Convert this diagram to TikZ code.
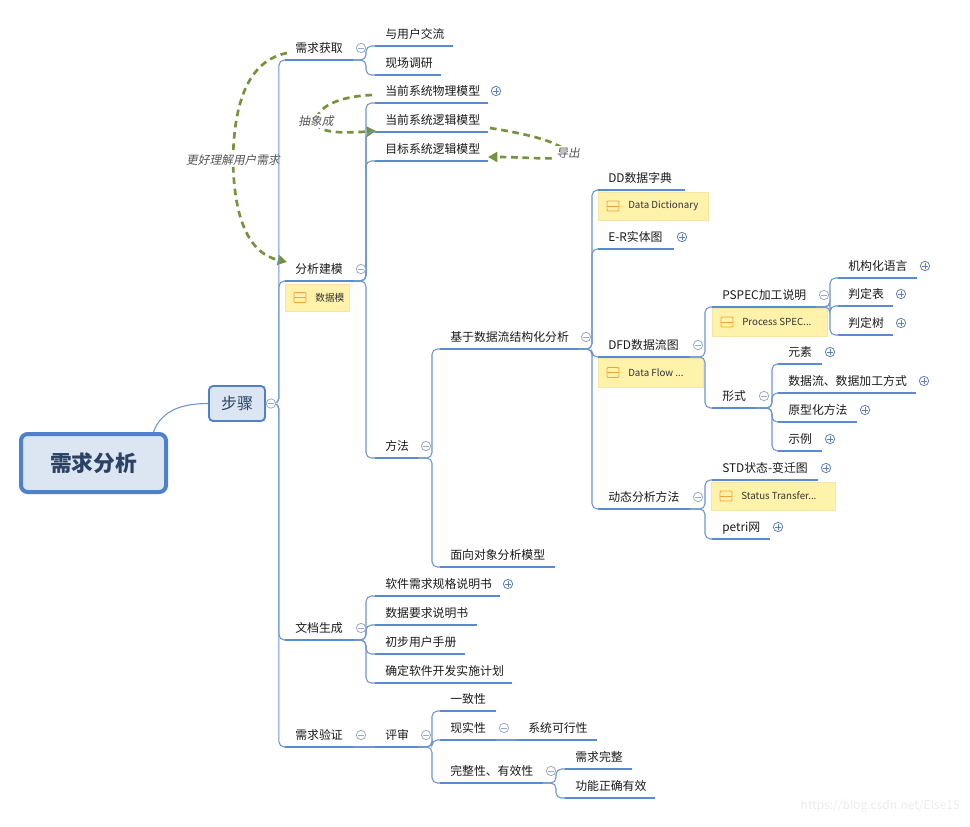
\documentclass[tikz,border=0pt]{standalone}
\usepackage{fontspec}
\setmainfont{Noto Sans CJK SC}
\newfontfamily\slfont{Noto Sans CJK SC}[FakeSlant=0.2]
\usetikzlibrary{calc,arrows.meta}
\definecolor{clrU}{HTML}{5A8AD2}
\definecolor{clrC}{HTML}{6E95CF}
\definecolor{clrT}{HTML}{1A1A1A}
\definecolor{clrT2}{HTML}{333333}
\definecolor{clrN}{HTML}{FFF2AB}
\definecolor{clrNB}{HTML}{F5E6A6}
\definecolor{clrIC}{HTML}{F2A33A}
\definecolor{clrG}{HTML}{76923C}
\definecolor{clrGL}{HTML}{555555}
\definecolor{clrCB}{HTML}{9AAACB}
\definecolor{clrCP}{HTML}{5F7FB8}
\definecolor{clrRF}{HTML}{DCE6F2}
\definecolor{clrRB}{HTML}{4F81C8}
\definecolor{clrRT}{HTML}{2B4264}
\tikzset{
  ul/.style={draw=clrU, line width=2.1pt},
  conn/.style={draw=clrC, line width=0.8pt, rounded corners=4pt},
  tl/.style={inner sep=0pt, anchor=base west, font=\fontsize{8.9pt}{10pt}\selectfont, text=clrT},
  nt/.style={fill=clrN, draw=clrNB, line width=0.4pt},
  ic/.style={draw=clrIC, line width=0.7pt},
  ntext/.style={inner sep=0pt, anchor=west, font=\fontsize{7.3pt}{9pt}\selectfont, text=clrT2},
  garrow/.style={draw=clrG, line width=2pt, dash pattern=on 5pt off 3.5pt, -{Triangle[length=7pt,width=7.5pt]}},
  glabel/.style={fill=white, inner sep=1pt, font=\slfont\fontsize{8.8pt}{10pt}\selectfont, text=clrGL},
  cbox/.style={circle, draw=clrCB, line width=0.6pt, fill=white, minimum size=7pt, inner sep=0pt},
  cmk/.style={draw=clrCB, line width=0.6pt},
  cmkp/.style={draw=clrCP, line width=0.6pt},
  rootbox/.style={draw=clrRB, fill=clrRF, line width=3pt, rounded corners=5pt, minimum width=108.75pt, minimum height=43.5pt, inner sep=0pt, font=\bfseries\fontsize{16.3pt}{18pt}\selectfont, text=clrRT},
  stepbox/.style={draw=clrRB, fill=clrRF, line width=1.4pt, rounded corners=3pt, minimum width=42pt, minimum height=26.25pt, inner sep=0pt, font=\fontsize{12pt}{14pt}\selectfont, text=clrRT},
}
\newcommand\tp[5]{%
  \coordinate (#1-s) at (#2,#3);
  \coordinate (#1-e) at (#4,#3);
  \draw[ul] (#1-s) -- (#1-e);
  \node[tl] (#1) at ($(#1-s)+(10,-7.5)$) {#5};}
\newcommand\cn[3]{\draw[conn] (#1-e) -- ++(#3,0) |- (#2-s);}
\newcommand\cmin[1]{%
  \node[cbox] (#1-c) at ($(#1-e)+(8,-12)$) {};
  \draw[cmk] ($(#1-c)+(-2.6,0)$) -- ($(#1-c)+(2.6,0)$);}
\newcommand\cplus[1]{%
  \node[cbox, draw=clrCP] (#1-c) at ($(#1-e)+(8,-12)$) {};
  \draw[cmkp] ($(#1-c)+(-2.6,0)$) -- ($(#1-c)+(2.6,0)$) ($(#1-c)+(0,-2.6)$) -- ($(#1-c)+(0,2.6)$);}
\newcommand\note[6]{%
  \path[nt] (#2,#3) rectangle (#4,#5);
  \coordinate (#1) at (#2,{(#3+#5)/2});
  \draw[ic, rounded corners=0.8pt] ($(#1)+(9,-5)$) rectangle ($(#1)+(21,5)$);
  \draw[ic] ($(#1)+(9,0)$) -- ($(#1)+(21,0)$);
  \node[ntext] (#1-t) at ($(#1)+(30,0)$) {#6};}

\begin{document}
\begin{tikzpicture}[x=0.75pt, y=-0.75pt]
\useasboundingbox[fill=white] (0,0) rectangle (970,826);

% root and step
\node[rootbox] (root) at (93.5,463) {需求分析};
\node[stepbox] (bz) at (237,403.5) {步骤};

% level 1
\tp{q1}{285}{60}{353}{需求获取}
\tp{q2}{285}{281}{353}{分析建模}
\tp{q3}{285}{640}{353}{文档生成}
\tp{q4}{285}{747}{353}{需求验证}

% under 需求获取
\tp{a1}{375}{46}{453}{与用户交流}
\tp{a2}{375}{75}{441}{现场调研}

% under 分析建模
\tp{b1}{375}{103}{488}{当前系统物理模型}
\tp{b2}{375}{132}{488}{当前系统逻辑模型}
\tp{b3}{375}{161}{488}{目标系统逻辑模型}
\tp{b4}{375}{458}{418}{方法}

% under 方法
\tp{c1}{440}{349}{578}{基于数据流结构化分析}
\tp{c2}{440}{567}{555}{面向对象分析模型}

% under 基于数据流结构化分析
\tp{d1}{598}{190}{685}{DD数据字典}
\tp{d2}{598}{249}{674}{E-R实体图}
\tp{d3}{598}{357}{690}{DFD数据流图}
\tp{d4}{598}{509}{690}{动态分析方法}

% under DFD
\tp{e1}{712}{307}{816}{PSPEC加工说明}
\tp{e2}{712}{408}{756}{形式}

% under PSPEC
\tp{f1}{838}{278}{917}{机构化语言}
\tp{f2}{838}{306}{893}{判定表}
\tp{f3}{838}{335}{893}{判定树}

% under 形式
\tp{g1}{778}{364}{822}{元素}
\tp{g2}{778}{393}{916}{数据流、数据加工方式}
\tp{g3}{778}{422}{857}{原型化方法}
\tp{g4}{778}{451}{822}{示例}

% under 动态分析方法
\tp{h1}{712}{480}{818}{STD状态-变迁图}
\tp{h2}{712}{539}{770}{petri网}

% under 文档生成
\tp{i1}{375}{596}{500}{软件需求规格说明书}
\tp{i2}{375}{625}{477}{数据要求说明书}
\tp{i3}{375}{654}{465}{初步用户手册}
\tp{i4}{375}{683}{512}{确定软件开发实施计划}

% under 需求验证
\tp{j1}{375}{747}{418}{评审}
\tp{k1}{440}{711}{496}{一致性}
\tp{k2}{440}{740}{496}{现实性}
\tp{k3}{440}{783}{543}{完整性、有效性}
\tp{l1}{518}{740}{597}{系统可行性}
\tp{m1}{565}{769}{632}{需求完整}
\tp{m2}{565}{798}{655}{功能正确有效}

% notes
\note{n0}{285}{284}{349}{311}{数据模}
\note{n1}{598}{192}{708}{220}{Data Dictionary}
\note{n2}{712}{308}{827}{336}{Process SPEC...}
\note{n3}{598}{358}{703}{387}{Data Flow ...}
\note{n4}{711}{482}{835}{510}{Status Transfer...}

% green dashed relations
\draw[garrow] ($(q1-s)+(2,-7)$) .. controls (252,60) and (234,95) .. (233,160)
   node[glabel] (gl1) {更好理解用户需求}
   .. controls (234,225) and (252,254) .. ($(q2-s)+(2,-19)$);
\draw[garrow] ($(b1-s)+(-3,-8)$) .. controls (345,96) and (318,104) .. (316,121)
   node[glabel] (gl2) {抽象成}
   .. controls (316,134) and (345,133) .. ($(b2-s)+(1,-1)$);
\draw[garrow] ($(b2-e)+(2,-4)$) .. controls (520,133) and (558,140) .. (568,153)
   node[glabel] (gl3) {导出}
   .. controls (572,162) and (530,157) .. ($(b3-e)+(0,-4)$);

% connectors
\draw[conn] ($(root.north)+(60,0)$) to[out=70, in=180] (bz.west);
\foreach \c in {q1,q2,q3,q4} {\draw[conn] (bz.east) -- ++(13,0) |- (\c-s);}
\cn{q1}{a1}{13} \cn{q1}{a2}{13}
\cn{q2}{b1}{13} \cn{q2}{b2}{13} \cn{q2}{b3}{13} \cn{q2}{b4}{13}
\cn{b4}{c1}{14} \cn{b4}{c2}{14}
\cn{c1}{d1}{14} \cn{c1}{d2}{14} \cn{c1}{d3}{14} \cn{c1}{d4}{14}
\cn{d3}{e1}{15} \cn{d3}{e2}{15}
\cn{e1}{f1}{14} \cn{e1}{f2}{14} \cn{e1}{f3}{14}
\cn{e2}{g1}{16} \cn{e2}{g2}{16} \cn{e2}{g3}{16} \cn{e2}{g4}{16}
\cn{d4}{h1}{15} \cn{d4}{h2}{15}
\cn{q3}{i1}{13} \cn{q3}{i2}{13} \cn{q3}{i3}{13} \cn{q3}{i4}{13}
\draw[conn] (q4-e) -- (j1-s);
\cn{j1}{k1}{14} \cn{j1}{k2}{14} \cn{j1}{k3}{14}
\draw[conn] (k2-e) -- (l1-s);
\cn{k3}{m1}{13} \cn{k3}{m2}{13}

% collapse marks
\node[cbox] (bz-c) at ($(bz.east)+(5,0)$) {};
\draw[cmk] ($(bz-c)+(-2.6,0)$) -- ($(bz-c)+(2.6,0)$);
\cmin{q1} \cmin{q2} \cmin{q3} \cmin{q4}
\cmin{b4} \cmin{c1} \cmin{d3} \cmin{d4} \cmin{e1} \cmin{e2}
\cmin{j1} \cmin{k2} \cmin{k3}
\cplus{b1} \cplus{d2} \cplus{f1} \cplus{f2} \cplus{f3}
\cplus{g1} \cplus{g2} \cplus{g3} \cplus{g4} \cplus{h1} \cplus{h2} \cplus{i1}

% watermark
\node[anchor=east, inner sep=0pt, text=black!7, font=\fontsize{9pt}{10pt}\selectfont] (wm) at (960,806) {https://blog.csdn.net/Else15};
\end{tikzpicture}
\end{document}
